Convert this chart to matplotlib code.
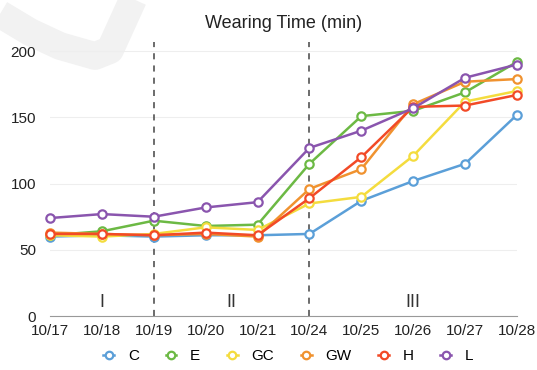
import matplotlib
matplotlib.use('Agg')
import matplotlib.pyplot as plt
from matplotlib.lines import Line2D

plt.rcParams['font.family'] = ['Liberation Sans', 'DejaVu Sans']

# days and the three phases
dates = ['10/17', '10/18', '10/19', '10/20', '10/21',
         '10/24', '10/25', '10/26', '10/27', '10/28']
phases = ['I', 'II', 'III']
phaseCentres = [1, 3.5, 7]
phaseBreaks = [2, 5]

# wearing time per subject (min)
C = [60, 61, 60, 61, 61, 62, 87, 102, 115, 152]
E = [61, 64, 72, 68, 69, 115, 151, 155, 169, 192]
GC = [61, 60, 62, 67, 65, 85, 90, 121, 162, 170]
GW = [63, 62, 61, 62, 60, 96, 111, 160, 177, 179]
H = [62, 62, 61, 63, 61, 89, 120, 158, 159, 167]
L = [74, 77, 75, 82, 86, 127, 140, 157, 180, 190]

names = ['C', 'E', 'GC', 'GW', 'H', 'L']
series = [C, E, GC, GW, H, L]
colours = ['#5b9fd8', '#6cb944', '#f4dc3e', '#f0922f', '#f24a27', '#8a55ae']

fig = plt.figure(figsize=(5.37, 3.70), dpi=100)
fig.patch.set_facecolor('white')

# faint mark in the top left corner
W, Hpx = 537.0, 370.0
px = [0, 30, 60, 95, 110, 135]
py = [14, 32, 46, 56, 50, -5]
fig.add_artist(Line2D([x / W for x in px], [1 - y / Hpx for y in py],
                      transform=fig.transFigure, color='#f2f2f2',
                      linewidth=20, solid_capstyle='butt',
                      solid_joinstyle='round', zorder=0))

ax = fig.add_axes([50 / W, 1 - 316 / Hpx, 467 / W, 274 / Hpx])
ax.set_facecolor('none')

x = list(range(len(dates)))
for name, vals, col in zip(names, series, colours):
    ax.plot(x, vals, color=col, linewidth=1.8, marker='o', markersize=6,
            markerfacecolor='white', markeredgecolor=col,
            markeredgewidth=1.6, label=name, clip_on=False, zorder=3)

for b in phaseBreaks:
    ax.axvline(b, color='#444444', linestyle=(0, (4, 4)), linewidth=1.1,
               zorder=2)
for lab, c in zip(phases, phaseCentres):
    ax.text(c, 10, lab, ha='center', va='center', fontsize=13,
            color='#333333')

ax.set_xlim(0, len(dates) - 1)
ax.set_ylim(0, 207)
ax.set_yticks([0, 50, 100, 150, 200])
ax.set_xticks(x)
ax.set_xticklabels(dates)
ax.grid(axis='y', color='#eeeeee', linewidth=0.8)
ax.set_axisbelow(True)
for s in ['top', 'right', 'left']:
    ax.spines[s].set_visible(False)
ax.spines['bottom'].set_color('#999999')
ax.tick_params(length=0, labelsize=11, colors='#222222')
ax.tick_params(axis='x', pad=6)
ax.tick_params(axis='y', pad=10)

ax.set_title('Wearing Time (min)', fontsize=13, color='#222222', pad=10)

fig.legend(loc='center', bbox_to_anchor=(0.537, 0.038), ncol=6,
           frameon=False, fontsize=11, handlelength=0.7,
           columnspacing=1.75, handletextpad=0.9, markerscale=0.9)

fig.savefig('out.png', dpi=100)
